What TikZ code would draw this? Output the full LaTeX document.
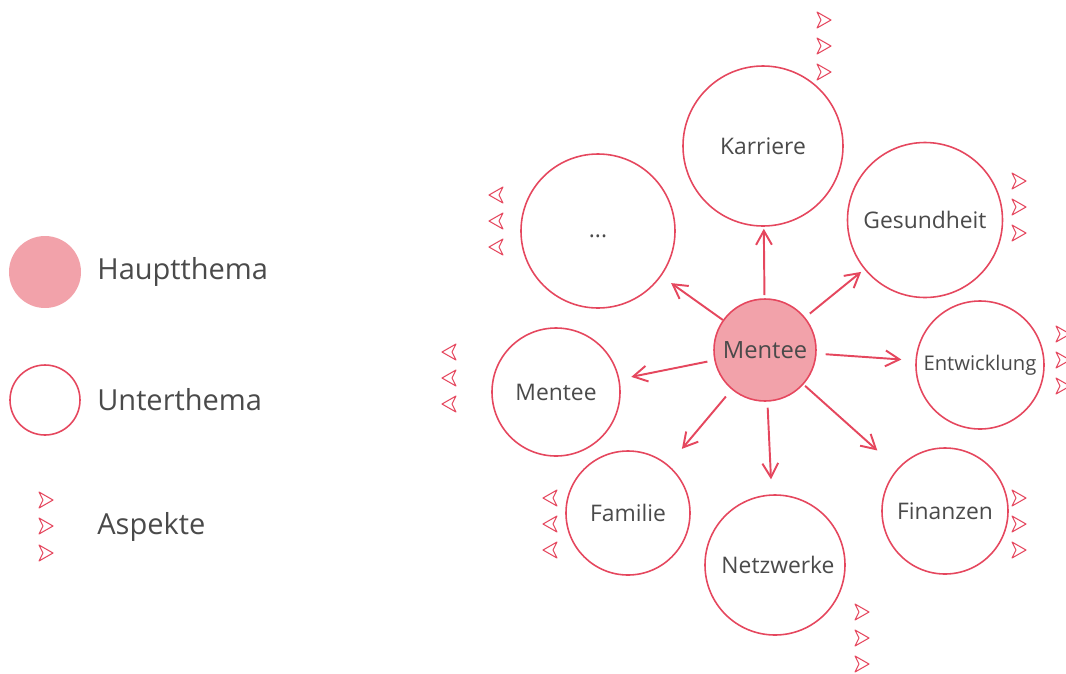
\documentclass[tikz,border=0pt]{standalone}
\usepackage{fontspec}
\setmainfont{Open Sans}
\usetikzlibrary{arrows.meta}
\definecolor{mred}{HTML}{E5475E}
\definecolor{mfill}{HTML}{F2A2AA}
\definecolor{tgray}{HTML}{4A4A4A}
\tikzset{
  topic/.style={circle,draw=mred,line width=0.9pt,inner sep=0pt,minimum size=#1,
    text=tgray,font=\fontsize{13}{15}\selectfont},
  link/.style={draw=mred,line width=1.1pt,-{Straight Barb[length=8pt,width=9pt]}},
  legend/.style={anchor=west,inner sep=0pt,text=tgray,font=\fontsize{16.5}{19}\selectfont},
  aspect/.pic={\draw[mred,line width=0.6pt,line join=round]
    (-6,-8) -- (8,0) -- (-6,8) -- (-2,0) -- cycle;}
}

\begin{document}
\begin{tikzpicture}[x=0.2mm,y=-0.2mm]
  \useasboundingbox (0,0) rectangle (1066,673);

  % legend
  \node [circle,fill=mfill,inner sep=0pt,minimum size=14.4mm] (hk) at (45,272) {};
  \node [legend] (ht) at (97,272) {Hauptthema};
  \node [topic=14mm] (uk) at (45,400) {};
  \node [legend] (ut) at (97,400) {Unterthema};
  \node [legend] (at) at (97,527) {Aspekte};
  \pic at (45,500) {aspect};
  \pic at (45,526) {aspect};
  \pic at (45,553) {aspect};

  % main topic
  \node [topic=20.4mm,fill=mfill,font=\fontsize{13.5}{15}\selectfont] (main) at (765,350) {Mentee};

  % sub topics
  \node [topic=32mm] (karriere) at (763,146) {Karriere};
  \node [topic=30.8mm] (dots) at (598,231) {\raisebox{-1.2mm}[0pt][0pt]{...}};
  \node [topic=31mm] (gesund) at (925,220) {Gesundheit};
  \node [topic=25.6mm,font=\fontsize{11.5}{13}\selectfont] (entw) at (980,365) {Entwicklung};
  \node [topic=25.6mm] (mentee) at (556,392) {Mentee};
  \node [topic=24.8mm] (familie) at (628,513) {Familie};
  \node [topic=28mm] (netz) at (775,565) {\hspace{1.2mm}Netzwerke};
  \node [topic=25.2mm] (finanz) at (945,511) {Finanzen};

  % links
  \draw [link,shorten <=0.6mm,shorten >=0.4mm] (main) -- (karriere);
  \draw [link,shorten <=0mm,shorten >=2.4mm] (main) -- (dots);
  \draw [link,shorten <=1.2mm,shorten >=0.8mm] (main) -- (gesund);
  \draw [link,shorten <=1.8mm,shorten >=2.8mm] (main) -- (entw);
  \draw [link,shorten <=0.4mm,shorten >=5.4mm] (main) -- (finanz);
  \draw [link,shorten <=1.2mm,shorten >=3mm] (main) -- (netz);
  \draw [link,shorten <=1.8mm,shorten >=4.2mm] (main) -- (familie);
  \draw [link,shorten <=1.4mm,shorten >=2.4mm] (main) -- (mentee);

  % aspects
  \pic at (823,20) {aspect};
  \pic at (823,46) {aspect};
  \pic at (823,72) {aspect};
  \pic [xscale=-1] at (497,195) {aspect};
  \pic [xscale=-1] at (497,221) {aspect};
  \pic [xscale=-1] at (497,247) {aspect};
  \pic at (1018,181) {aspect};
  \pic at (1018,207) {aspect};
  \pic at (1018,233) {aspect};
  \pic at (1062,334) {aspect};
  \pic at (1062,360) {aspect};
  \pic at (1062,386) {aspect};
  \pic [xscale=-1] at (450,352) {aspect};
  \pic [xscale=-1] at (450,378) {aspect};
  \pic [xscale=-1] at (450,404) {aspect};
  \pic [xscale=-1] at (551,498) {aspect};
  \pic [xscale=-1] at (551,524) {aspect};
  \pic [xscale=-1] at (551,550) {aspect};
  \pic at (1018,498) {aspect};
  \pic at (1018,524) {aspect};
  \pic at (1018,550) {aspect};
  \pic at (861,612) {aspect};
  \pic at (861,638) {aspect};
  \pic at (861,664) {aspect};
\end{tikzpicture}
\end{document}
